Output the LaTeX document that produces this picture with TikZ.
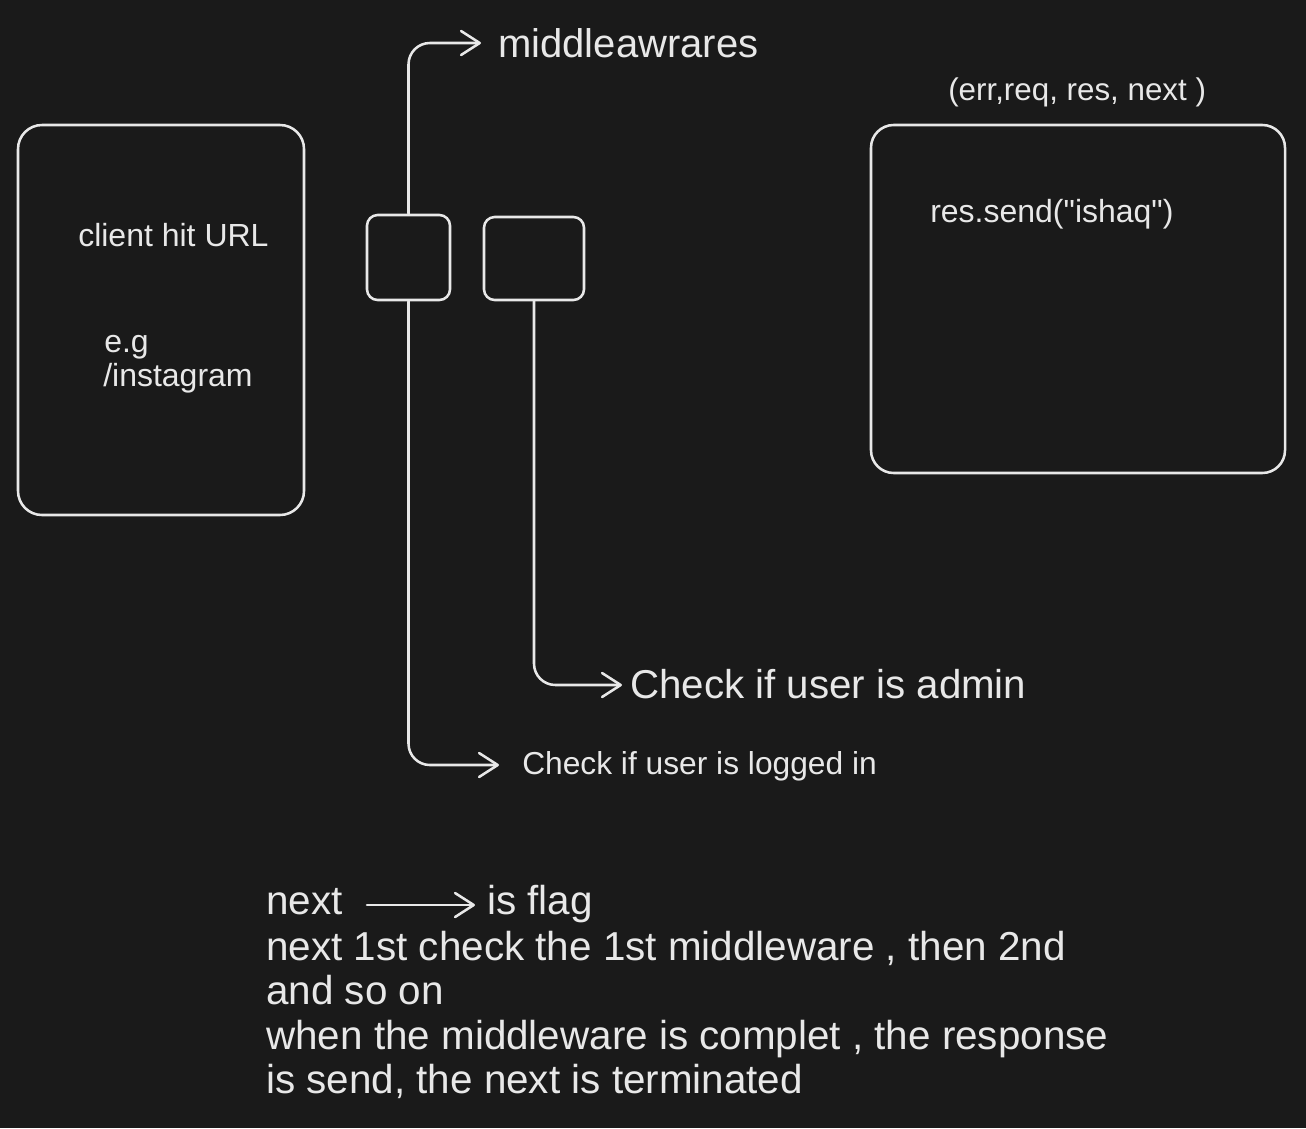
\documentclass[tikz,border=0pt]{standalone}
\usepackage{fontspec}
\setmainfont{Liberation Sans}[Ligatures=TeXOff]
\usetikzlibrary{arrows.meta,calc}
\definecolor{bg}{HTML}{1A1A1A}
\definecolor{fg}{HTML}{E8E8E8}
\begin{document}
\begin{tikzpicture}[x=0.75pt,y=-0.75pt,
  box/.style={draw=fg, line width=1.9pt, rounded corners=#1, inner sep=0, fill=none},
  txt/.style={text=fg, inner sep=0, anchor=base west},
  sm/.style={font=\fontsize{24pt}{28pt}\selectfont},
  lg/.style={font=\fontsize{30.3pt}{34pt}\selectfont},
  conn/.style={draw=fg, line width=1.9pt, line cap=round, line join=round, rounded corners=16pt,
    -{Straight Barb[length=14pt,width=18pt,line width=1.9pt,round]}}]
\fill[bg] (0,0) rectangle (1306,1128);
\useasboundingbox (0,0) rectangle (1306,1128);
% boxes
\node[box=18pt, minimum width=214.5pt, minimum height=292.5pt] (client) at (161,320) {};
\node[box=8pt, minimum width=62.25pt, minimum height=63.75pt] (b1) at (408.5,257.5) {};
\node[box=8pt, minimum width=75pt, minimum height=62.25pt] (b2) at (534,258.5) {};
\node[box=17pt, minimum width=310.5pt, minimum height=261pt] (resbox) at (1078,299) {};
% texts
\node[txt,font=\fontsize{30pt}{34pt}\selectfont] (mw) at (498,57) {middleawrares};
\node[txt,font=\fontsize{23.5pt}{28pt}\selectfont] (args) at (948,100) {(err,req, res, next )};
\node[txt,sm] (send) at (930,222) {res.send("ishaq")};
\node[txt,sm] (hit) at (78,246) {client hit URL};
\node[txt,sm] (eg) at (104,352) {e.g};
\node[txt,sm] (insta) at (103,386) {/instagram};
\node[txt,font=\fontsize{30.2pt}{34pt}\selectfont] (adm) at (630,698) {Check if user is admin};
\node[txt,font=\fontsize{23.8pt}{28pt}\selectfont] (log) at (522,774) {Check if user is logged in};
\node[txt,lg] (nx) at (266,914) {next};
\node[txt,lg] (fl) at (487,914) {is flag};
\node[txt,lg] (l2) at (266,960) {next 1st check the 1st middleware , then 2nd};
\node[txt,lg] (l3) at (266,1004) {and so on};
\node[txt,lg] (l4) at (266,1049) {when the middleware is complet , the response};
\node[txt,lg] (l5) at (266,1093) {is send, the next is terminated};
% arrow tips
\coordinate (mwtip) at (481,43);
\coordinate (logtip) at (499,765);
\coordinate (admtip) at (622,685);
\coordinate (nxs) at (367,905);
\coordinate (nxe) at (475,905);
% connectors
\draw[conn] (b1.north) |- (mwtip);
\draw[conn] (b1.south) |- (logtip);
\draw[conn] (b2.south) |- (admtip);
\draw[conn] (nxs) -- (nxe);
\end{tikzpicture}
\end{document}
